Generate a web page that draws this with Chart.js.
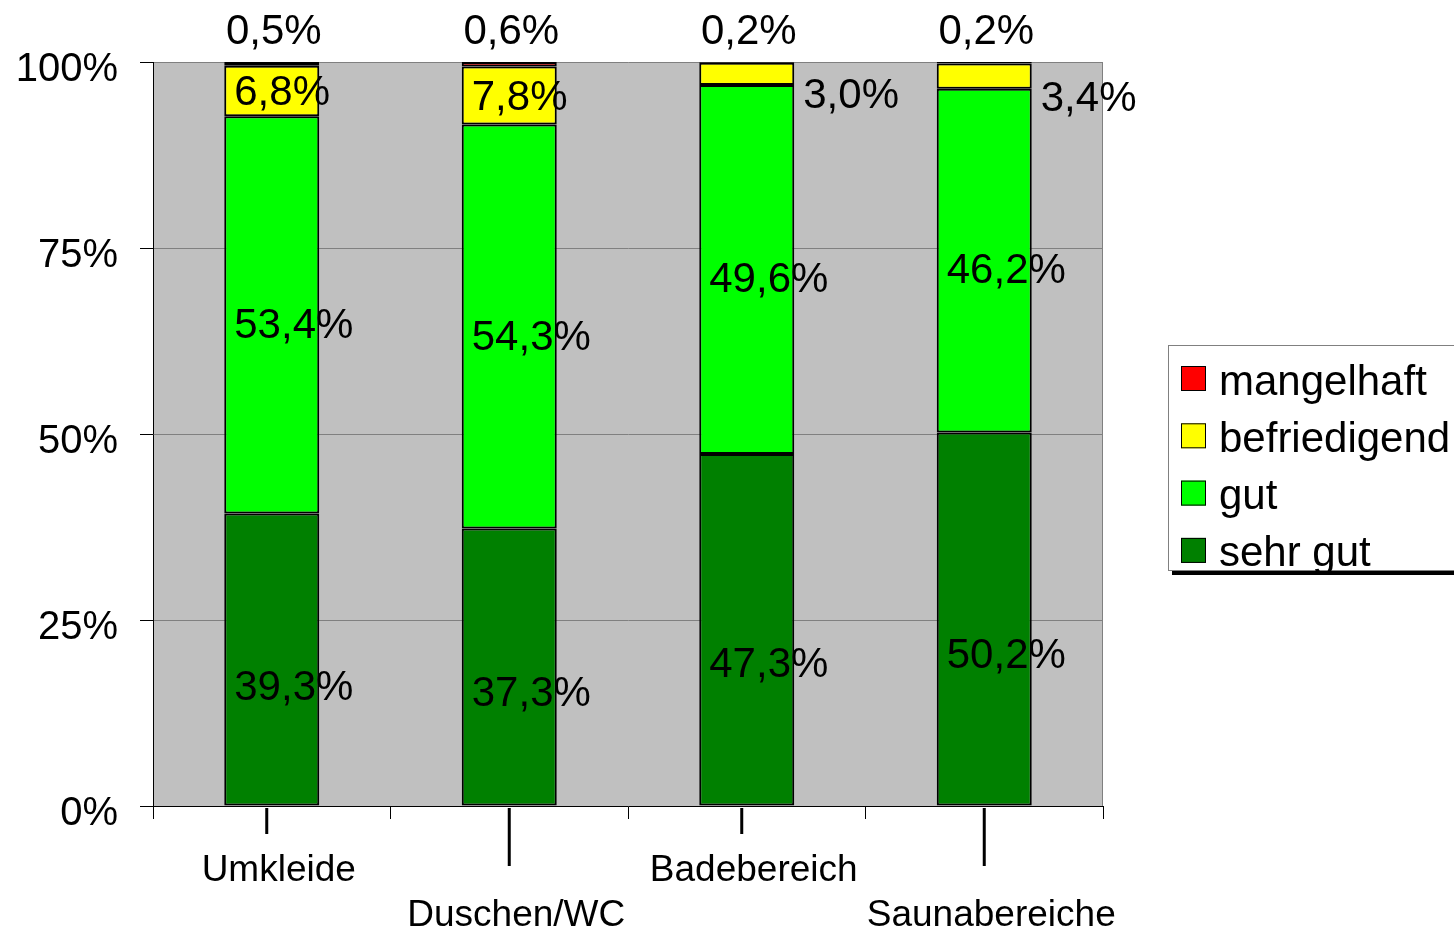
<!DOCTYPE html>
<html>
<head>
<meta charset="utf-8">
<script src="https://cdn.jsdelivr.net/npm/chart.js@4.4.1/dist/chart.umd.min.js"></script>
<style>
    body { margin: 0; background: #fff; }
    #wrap { width: 1454px; height: 928px; position: relative; }
</style>
</head>
<body>
<div id="wrap"><canvas id="chart"></canvas></div>
<script>
const categories = ['Umkleide', 'Duschen/WC', 'Badebereich', 'Saunabereiche']
const seriesNames = ['sehr gut', 'gut', 'befriedigend', 'mangelhaft']
const sehrGut = [39.3, 37.3, 47.3, 50.2]
const gut = [53.4, 54.3, 49.6, 46.2]
const befriedigend = [6.8, 7.8, 3.0, 3.4]
const mangelhaft = [0.5, 0.6, 0.2, 0.2]
const colors = ['#008000', '#00FF00', '#FFFF00', '#FF0000']

const FONT = '"Liberation Sans", Arial, sans-serif'
Chart.defaults.font.family = FONT
Chart.defaults.color = '#000'

// where inside a segment the label sits (fraction from segment top)
const LABEL_POS = [0.6, 0.53, 0.55]

function fmt(v) {
    return v.toFixed(1).replace('.', ',') + '%'
}

const plotBackground = {
    id: 'plotBackground',
    beforeDraw(chart) {
        const {ctx, chartArea} = chart
        ctx.save()
        ctx.fillStyle = '#C0C0C0'
        ctx.fillRect(chartArea.left, chartArea.top, chartArea.right - chartArea.left, chartArea.bottom - chartArea.top)
        ctx.strokeStyle = '#808080'
        ctx.lineWidth = 1
        ctx.beginPath()
        ctx.moveTo(chartArea.right - 0.5, chartArea.top)
        ctx.lineTo(chartArea.right - 0.5, chartArea.bottom)
        ctx.stroke()
        ctx.restore()
    }
}

const barLabels = {
    id: 'barLabels',
    afterDatasetsDraw(chart) {
        const ctx = chart.ctx
        const area = chart.chartArea
        ctx.save()
        ctx.font = '42px ' + FONT
        ctx.fillStyle = '#000'
        ctx.textBaseline = 'middle'
        chart.data.datasets.forEach((ds, i) => {
            chart.getDatasetMeta(i).data.forEach((bar, j) => {
                const v = ds.data[j]
                const top = bar.y
                const h = bar.base - bar.y
                const left = bar.x - bar.width / 2
                const right = bar.x + bar.width / 2
                if (i === 3) {
                    ctx.textAlign = 'center'
                    ctx.fillText(fmt(v), bar.x + 2, area.top - 30)
                } else if (h < 30) {
                    ctx.textAlign = 'left'
                    ctx.fillText(fmt(v), right + 9, top + h / 2 + 23)
                } else {
                    ctx.textAlign = 'left'
                    ctx.fillText(fmt(v), left + 10, top + h * LABEL_POS[i])
                }
            })
        })
        ctx.restore()
    }
}

const axisMarks = {
    id: 'axisMarks',
    afterDraw(chart) {
        const ctx = chart.ctx
        const xs = chart.scales.x
        ctx.save()
        ctx.strokeStyle = '#000'
        ctx.lineWidth = 3
        categories.forEach((c, i) => {
            const x = xs.getPixelForValue(i) - (i % 2 ? 0 : 5)
            ctx.beginPath()
            ctx.moveTo(x, xs.top + 2)
            ctx.lineTo(x, xs.top + (i % 2 ? 60 : 28))
            ctx.stroke()
        })
        ctx.restore()
    }
}

const sideLegend = {
    id: 'sideLegend',
    afterDraw(chart) {
        const ctx = chart.ctx
        const x0 = chart.chartArea.right + 65
        const y0 = 345
        const w = 320
        const h = 225
        ctx.save()
        ctx.fillStyle = '#000'
        ctx.fillRect(x0 + 4, y0 + h, w, 5)
        ctx.fillStyle = '#fff'
        ctx.fillRect(x0, y0, w, h)
        ctx.strokeStyle = '#808080'
        ctx.lineWidth = 1
        ctx.strokeRect(x0 + 0.5, y0 + 0.5, w, h)
        ctx.font = '42px ' + FONT
        ctx.textBaseline = 'middle'
        ctx.textAlign = 'left'
        const items = chart.data.datasets.slice().reverse()
        items.forEach((ds, k) => {
            const cy = y0 + 33 + k * 57.3
            ctx.fillStyle = ds.backgroundColor
            ctx.fillRect(x0 + 13, cy - 12, 25, 25)
            ctx.strokeStyle = '#000'
            ctx.lineWidth = 1
            ctx.strokeRect(x0 + 13.5, cy - 11.5, 24, 24)
            ctx.fillStyle = '#000'
            ctx.fillText(ds.label, x0 + 51, cy + 5)
        })
        ctx.restore()
    }
}

const seriesData = [sehrGut, gut, befriedigend, mangelhaft]

new Chart(document.getElementById('chart'), {
    type: 'bar',
    data: {
        labels: categories,
        datasets: seriesData.map((values, i) => ({
            label: seriesNames[i],
            data: values,
            backgroundColor: colors[i],
            borderColor: '#000',
            borderWidth: 2,
            borderSkipped: false,
            barPercentage: 0.4,
            categoryPercentage: 1
        }))
    },
    options: {
        responsive: true,
        maintainAspectRatio: false,
        animation: false,
        layout: {padding: {top: 62, right: 351, left: 0, bottom: 0}},
        plugins: {
            legend: {display: false},
            tooltip: {enabled: false}
        },
        scales: {
            x: {
                stacked: true,
                grid: {display: true, drawOnChartArea: false, offset: true, tickLength: 13, tickColor: '#000'},
                border: {color: '#000', width: 1},
                ticks: {
                    autoSkip: false,
                    maxRotation: 0,
                    padding: 30,
                    labelOffset: 7,
                    font: {size: 37, lineHeight: 1.2},
                    callback: (v, i) => i % 2 ? ['', categories[i]] : categories[i]
                },
                afterFit: (s) => { s.height = 122 }
            },
            y: {
                stacked: true,
                min: 0,
                max: 100,
                grid: {color: '#808080', tickColor: '#000', tickLength: 13},
                border: {color: '#000', width: 1},
                ticks: {
                    stepSize: 25,
                    padding: 22,
                    labelOffset: 8,
                    font: {size: 40},
                    callback: (v) => v + '%'
                },
                afterFit: (s) => { s.width = 153 }
            }
        }
    },
    plugins: [plotBackground, barLabels, axisMarks, sideLegend]
})
</script>
</body>
</html>
